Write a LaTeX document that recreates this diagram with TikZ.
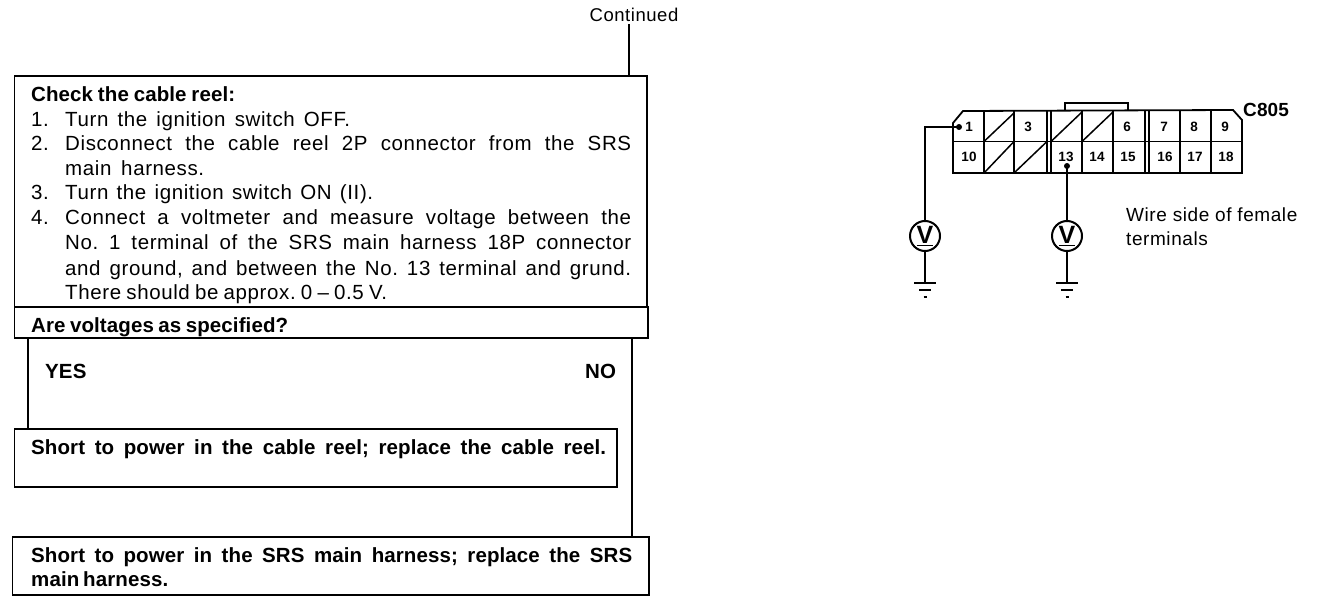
\documentclass[tikz,border=0pt]{standalone}
\usepackage{fontspec}
\setmainfont{Liberation Sans}[LetterSpace=3,BoldFeatures={LetterSpace=0.5}]
\newcommand{\tl}[5]{\node[textline] (#1) at (#2,#3) {\makebox[#4pt][s]{#5}};}
\newcommand{\pin}[4]{\node[pinlabel] (#1) at (#2,#3) {#4};}
\tikzset{
  textline/.style={anchor=base west,inner sep=0pt,font=\fontsize{20.5}{24}\selectfont\frenchspacing},
  pinlabel/.style={inner sep=0pt,font=\fontsize{13.5}{15}\selectfont\bfseries},
  flowbox/.style={draw,line width=1.8pt,anchor=north west,inner sep=0pt,outer sep=0pt},
  wire/.style={line width=1.8pt},
  thinwire/.style={line width=1.5pt},
  meter/.style={draw,circle,line width=2pt,minimum size=30pt,inner sep=0pt,font=\fontsize{25}{26}\selectfont\bfseries}
}
\begin{document}
\begin{tikzpicture}[x=1pt,y=-1pt]
\useasboundingbox[fill=white] (0,0) rectangle (1328,604);
% flow chart boxes
\node[flowbox,minimum width=632.5pt,minimum height=231pt] (main) at (14.5,76) {};
\node[flowbox,minimum width=633.5pt,minimum height=31pt] (question) at (14.5,307) {};
\node[flowbox,minimum width=602.5pt,minimum height=58pt] (reel) at (14.5,429) {};
\node[flowbox,minimum width=636.5pt,minimum height=58pt] (harness) at (12.5,537) {};
\node[inner sep=0pt,font=\fontsize{18.5}{22}\selectfont] (cont) at (634,15) {Continued};
\coordinate (cs) at (629,24);
\coordinate (yesx) at (28,338);
\coordinate (nox) at (632,338);
\draw[wire] (cs) -- (cs |- main.north);
\draw[wire] (yesx) -- (yesx |- reel.north);
\draw[wire] (nox) -- (nox |- harness.north);
% main text
\tl{t0}{31}{102}{204}{\bfseries Check the cable reel:}
\tl{n1}{31}{127}{22}{1.}
\tl{t1}{65}{127}{285}{Turn the ignition switch OFF.}
\tl{n2}{31}{151}{22}{2.}
\tl{t2}{65}{151}{566}{Disconnect the cable reel 2P connector from the SRS}
\tl{t2b}{65}{176}{139}{main harness.}
\tl{n3}{31}{200}{22}{3.}
\tl{t3}{65}{200}{308}{Turn the ignition switch ON (II).}
\tl{n4}{31}{225}{22}{4.}
\tl{t4}{65}{225}{566}{Connect a voltmeter and measure voltage between the}
\tl{t4b}{65}{250}{566}{No. 1 terminal of the SRS main harness 18P connector}
\tl{t4c}{65}{275}{566}{and ground, and between the No. 13 terminal and grund.}
\tl{t4d}{65}{299}{322}{There should be approx. 0 -- 0.5 V.}
\tl{q}{31}{332}{257}{\bfseries Are voltages as specified?}
\tl{yes}{45}{378}{40}{\bfseries YES}
\tl{no}{585}{378}{33}{\bfseries NO}
\tl{r1}{31}{454}{575}{\bfseries Short to power in the cable reel; replace the cable reel.}
\tl{h1}{31}{562}{601}{\bfseries Short to power in the SRS main harness; replace the SRS}
\tl{h2}{31}{586}{137}{\bfseries main harness.}
% connector
\draw[wire] (953,123) -- (963,111) -- (1233,110) -- (1242,120) -- (1242,173) -- (953,173) -- cycle;
\draw[wire] (1065,110) -- (1065,102.7) -- (1128,102.7) -- (1128,110);
\draw[thinwire] (953,141.5) -- (1242,141.5);
\foreach \vx in {984,1014,1047,1051,1082,1113,1145,1149,1180,1211} {\draw[thinwire] (\vx,110.5) -- (\vx,173);}
\draw[thinwire] (984,141.5) -- (1014,113);
\draw[thinwire] (984,173) -- (1014,141.5);
\draw[thinwire] (1014,173) -- (1047,141.5);
\draw[thinwire] (1051,141.5) -- (1082,112);
\draw[thinwire] (1082,141.5) -- (1113,112);
\pin{p1}{969}{127}{1}
\pin{p3}{1028}{127}{3}
\pin{p6}{1127}{127}{6}
\pin{p7}{1164}{127}{7}
\pin{p8}{1194}{127}{8}
\pin{p9}{1225}{127}{9}
\pin{p10}{969}{157}{10}
\pin{p13}{1066}{157}{13}
\pin{p14}{1097}{157}{14}
\pin{p15}{1128}{157}{15}
\pin{p16}{1165}{157}{16}
\pin{p17}{1195}{157}{17}
\pin{p18}{1226}{157}{18}
\node[anchor=base west,inner sep=0pt,font=\fontsize{19}{22}\selectfont\bfseries] (c805) at (1243,117) {C805};
\node[anchor=base west,inner sep=0pt,font=\fontsize{19}{22}\selectfont] (w1) at (1126,222) {Wire side of female};
\node[anchor=base west,inner sep=0pt,font=\fontsize{19}{22}\selectfont] (w2) at (1126,246) {terminals};
% meters
\node[meter] (v1) at (925,236) {\underline{V}};
\node[meter] (v2) at (1067,236) {\underline{V}};
\coordinate (d1) at (959,127);
\coordinate (d2) at (1067,166);
\fill (d1) circle (3pt);
\fill (d2) circle (3pt);
\coordinate (g1) at (925,283);
\coordinate (g2) at (1067,283);
\draw[wire] (d1) -- (v1.north |- d1) -- (v1.north);
\draw[wire] (d2) -- (v2.north);
\draw[wire] (v1.south) -- (g1);
\draw[wire] (v2.south) -- (g2);
\foreach \g in {g1,g2} {
  \draw[line width=2.2pt] ([xshift=-11pt]\g) -- ([xshift=11pt]\g);
  \draw[line width=2pt] ([xshift=-6pt,yshift=-7pt]\g) -- ([xshift=6pt,yshift=-7pt]\g);
  \draw[line width=2pt] ([xshift=-1.5pt,yshift=-14pt]\g) -- ([xshift=1.5pt,yshift=-14pt]\g);
}
\end{tikzpicture}
\end{document}
